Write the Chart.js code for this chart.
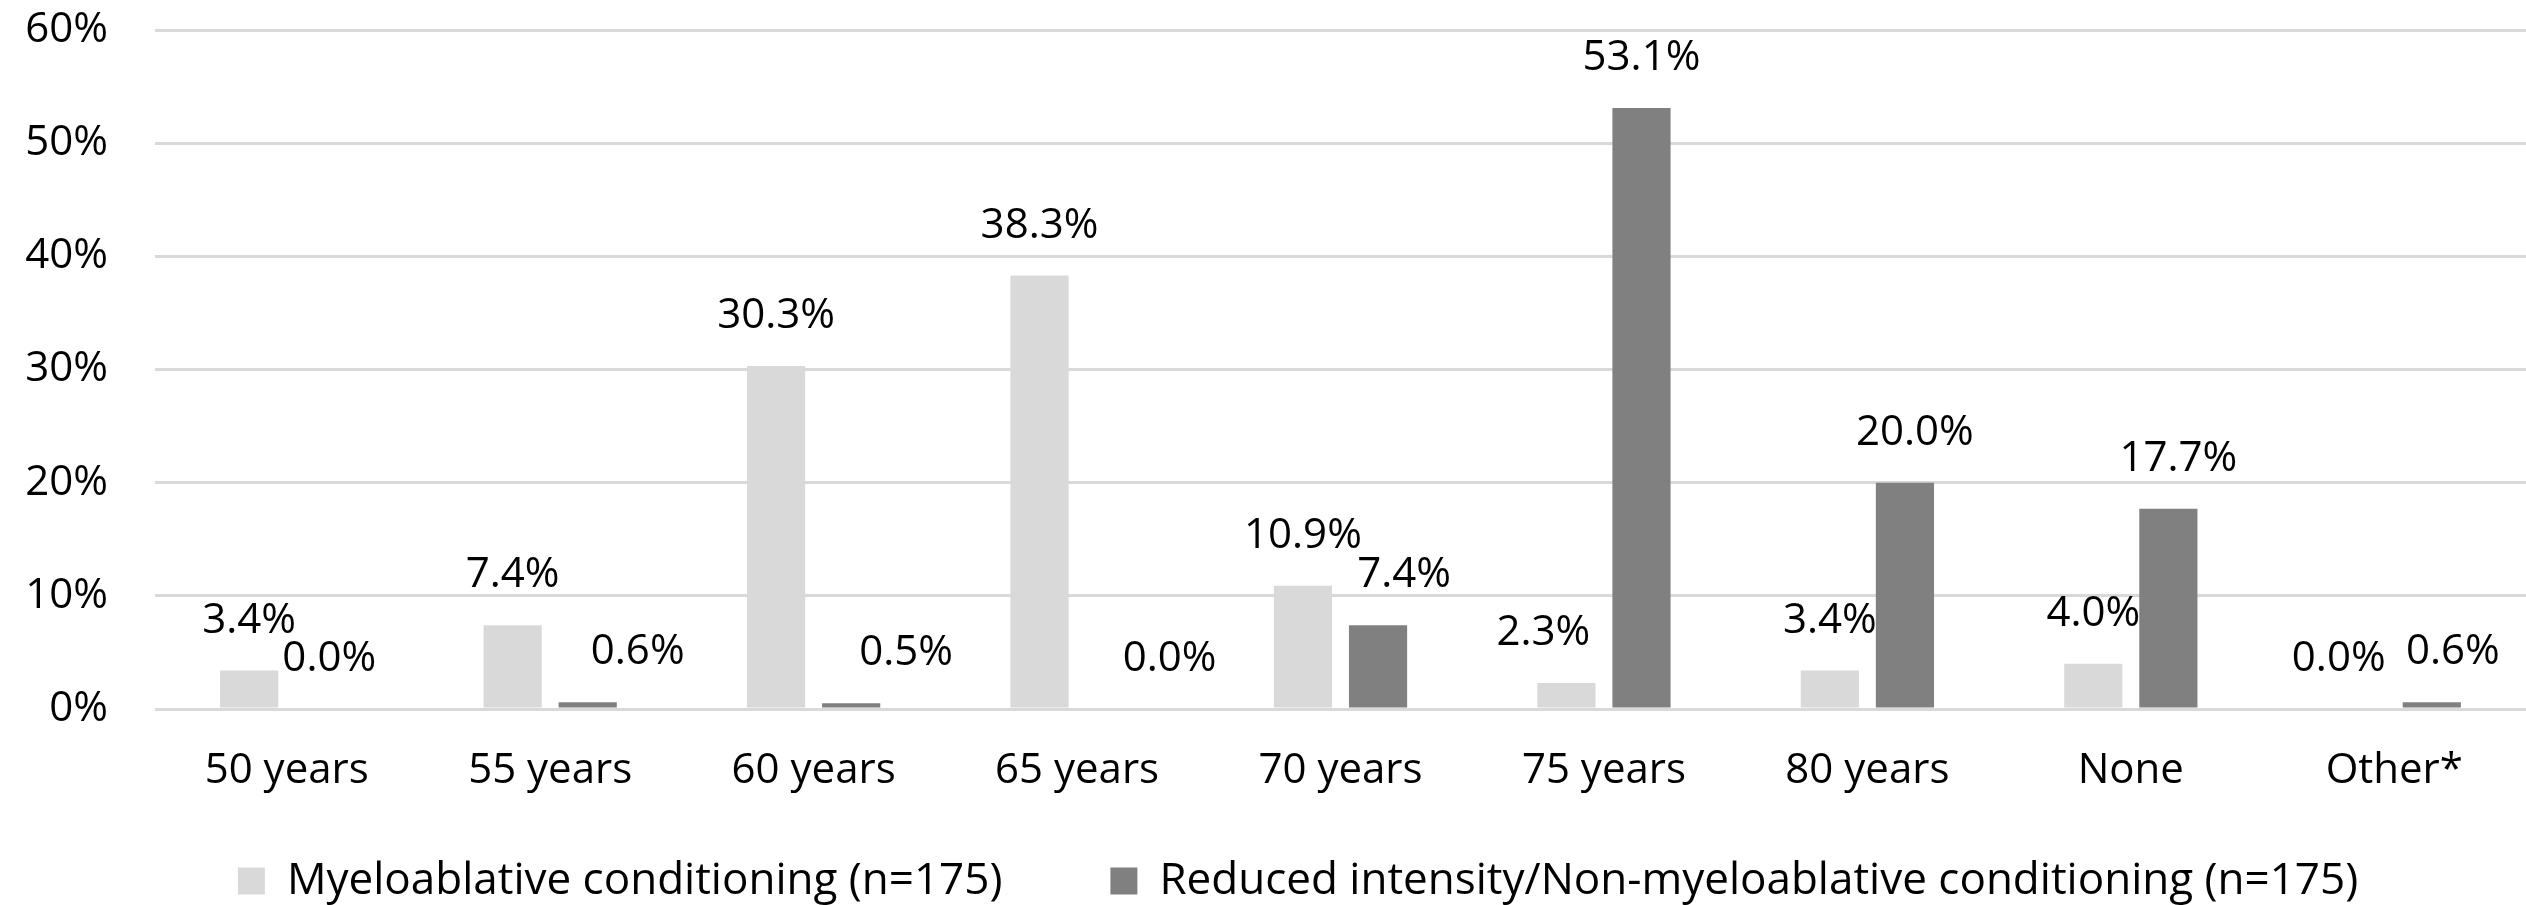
<!DOCTYPE html>
<html>
<head>
<meta charset="utf-8">
<title>Conditioning intensity by age cut-off</title>
<script src="https://cdn.jsdelivr.net/npm/chart.js@4/dist/chart.umd.min.js"></script>
<style>
  html, body { margin: 0; padding: 0; background: #ffffff; }
  #wrap { width: 2526px; height: 905px; }
</style>
</head>
<body>
<div id="wrap"><canvas id="chart" width="2526" height="905"></canvas></div>
<script>
// Categories (age cut-off used for conditioning choice)
const categories = ['50 years', '55 years', '60 years', '65 years', '70 years', '75 years', '80 years', 'None', 'Other*'];

// Percent of centres per conditioning type
const myeloablative = [3.4, 7.4, 30.3, 38.3, 10.9, 2.3, 3.4, 4.0, 0.0];
const reducedIntensity = [0.0, 0.6, 0.5, 0.0, 7.4, 53.1, 20.0, 17.7, 0.6];

// Y axis ticks (percent)
const yTicks = [0, 10, 20, 30, 40, 50, 60];

const seriesNames = ['Myeloablative conditioning (n=175)', 'Reduced intensity/Non-myeloablative conditioning (n=175)'];

const FONT = '"Open Sans"';

// Value labels above each bar, with small sideways nudges where labels would collide
const valueLabels = {
  id: 'valueLabels',
  afterDatasetsDraw(chart, args, opts) {
    const ctx = chart.ctx;
    ctx.save();
    ctx.font = opts.size + 'px ' + FONT;
    ctx.fillStyle = opts.color;
    ctx.textAlign = 'center';
    ctx.textBaseline = 'alphabetic';
    chart.data.datasets.forEach((ds, di) => {
      const meta = chart.getDatasetMeta(di);
      meta.data.forEach((bar, i) => {
        const nudge = (opts.nudge[di] && opts.nudge[di][i]) || 0;
        ctx.fillText(ds.data[i].toFixed(1) + '%', bar.x + nudge, bar.y - opts.gap);
      });
    });
    ctx.restore();
  }
};

// Moves the legend block after layout (its box is stretched down to the canvas edge)
const legendShift = {
  id: 'legendShift',
  afterLayout(chart, args, opts) {
    const lg = chart.legend;
    if (!lg) return;
    lg.left += opts.dx;
    lg.right += opts.dx;
    lg.top += opts.dy;
    lg.bottom = chart.height;
  }
};

new Chart(document.getElementById('chart'), {
  type: 'bar',
  data: {
    labels: categories,
    datasets: [
      {
        label: seriesNames[0],
        data: myeloablative,
        backgroundColor: '#d9d9d9',
        borderWidth: 0,
        categoryPercentage: 0.57,
        barPercentage: 0.775
      },
      {
        label: seriesNames[1],
        data: reducedIntensity,
        backgroundColor: '#808080',
        borderWidth: 0,
        categoryPercentage: 0.57,
        barPercentage: 0.775
      }
    ]
  },
  options: {
    responsive: false,
    animation: false,
    devicePixelRatio: 1,
    layout: { padding: { top: 30, right: 0, bottom: 0, left: 0 } },
    scales: {
      x: {
        grid: { display: false, drawTicks: false },
        border: { display: false },
        ticks: { font: { family: FONT, size: 42 }, color: '#000000', padding: 37, maxRotation: 0, autoSkip: false },
        afterFit(scale) {
          scale.height = 106;
          scale.paddingLeft = 0;
          scale.paddingRight = 0;
        }
      },
      y: {
        min: 0,
        max: 60,
        afterBuildTicks(scale) { scale.ticks = yTicks.map(v => ({ value: v })); },
        grid: { color: '#d9d9d9', lineWidth: 3, drawTicks: false },
        border: { display: false },
        ticks: {
          font: { family: FONT, size: 42 },
          color: '#000000',
          padding: 47,
          callback: v => v + '%'
        },
        afterFit(scale) {
          scale.width = 155;
          scale.paddingTop = 0;
          scale.paddingBottom = 0;
        }
      }
    },
    plugins: {
      legend: {
        position: 'bottom',
        maxHeight: 90,
        labels: {
          font: { family: FONT, size: 44 },
          color: '#000000',
          boxWidth: 27,
          boxHeight: 27,
          padding: 108
        }
      },
      tooltip: { enabled: false },
      valueLabels: {
        size: 42,
        color: '#000000',
        gap: 38,
        nudge: [
          [0, 0, 0, 0, 0, -23, 0, 0, -18],
          [5, 50, 55, 55, 26, 0, 10, 10, 21]
        ]
      },
      legendShift: { dx: 35, dy: -64 }
    }
  },
  plugins: [valueLabels, legendShift]
});
</script>
</body>
</html>
